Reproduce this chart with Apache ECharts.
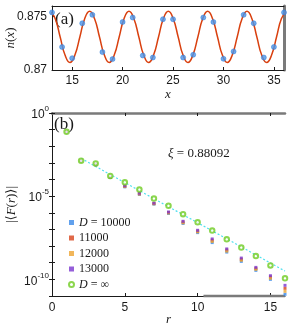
<!DOCTYPE html>
<html><head><meta charset="utf-8">
<script src="https://cdn.jsdelivr.net/npm/echarts@6/dist/echarts.min.js"></script>
<style>html,body{margin:0;padding:0;background:#fff}#c{width:299px;height:330px}</style>
</head><body><div id="c"></div>
<script>
// ---------- Panel (a): density n(x) ----------
const siteX = [13,14,15,16,17,18,19,20,21,22,23,24,25,26,27,28,29,30,31,32,33,34,35,36];
const densityN = [0.8754,0.87216,0.87111,0.87438,0.87517,0.87168,0.87102,0.8745,0.87492,0.87136,0.87117,0.87476,
                  0.87476,0.87117,0.87143,0.87492,0.8745,0.87105,0.87174,0.87517,0.87438,0.87117,0.87216,0.8754];
// fitted curve (peaks, troughs and intermediate points)
const fitX = [12.83,13.32,13.81,14.29,14.78,15.27,15.76,16.24,16.73,17.22,17.71,18.19,18.68,19.17,19.66,20.14,
              20.63,21.12,21.61,22.09,22.58,23.07,23.56,24.04,24.53,25.02,25.51,25.99,26.48,26.97,27.46,27.94,
              28.43,28.92,29.41,29.89,30.38,30.87,31.36,31.84,32.33,32.82,33.31,33.79,34.28,34.77,35.26,35.74,36.23];
const fitN = [0.8755,0.8748,0.8731,0.8714,0.8707,0.8714,0.8731,0.8748,0.8755,0.8748,0.8731,0.8714,0.8707,0.8714,0.8731,0.8748,
              0.8755,0.8748,0.8731,0.8714,0.8707,0.8714,0.8731,0.8748,0.8755,0.8748,0.8731,0.8714,0.8707,0.8714,0.8731,0.8748,
              0.8755,0.8748,0.8731,0.8714,0.8707,0.8714,0.8731,0.8748,0.8755,0.8748,0.8731,0.8714,0.8707,0.8714,0.8731,0.8748,0.8755];
const xTicksA = [15,20,25,30,35];
const yTicksA = [0.87,0.875];

// ---------- Panel (b): |<F(r)>| (log10 values) ----------
const distR = [1,2,3,4,5,6,7,8,9,10,11,12,13,14,15,16];
const log10_D10000 = [-1.13,-2.88,-3.12,-3.88,-4.44,-4.90,-5.48,-6.04,-6.64,-7.19,-7.79,-8.36,-8.92,-9.46,-10.00,-10.90];
const log10_D11000 = [-1.13,-2.87,-3.09,-3.86,-4.40,-4.85,-5.44,-5.98,-6.55,-7.10,-7.64,-8.23,-8.79,-9.34,-9.85,-10.54];
const log10_D12000 = [-1.13,-2.88,-3.11,-3.87,-4.42,-4.87,-5.46,-6.01,-6.60,-7.14,-7.72,-8.30,-8.85,-9.40,-9.93,-10.72];
const log10_D13000 = [-1.13,-2.87,-3.08,-3.85,-4.38,-4.82,-5.42,-5.95,-6.51,-7.05,-7.57,-8.17,-8.72,-9.28,-9.78,-10.36];
const log10_Dinf   = [-1.13,-2.87,-3.03,-3.78,-4.17,-4.60,-5.14,-5.58,-6.08,-6.57,-7.07,-7.59,-8.09,-8.60,-9.16,-9.94];
const fitLineR = [2,16];
const fitLineLog10 = [-2.73,-9.5];
const xTicksB = [0,5,10,15];
const yTickValsB = [1,1e-1,1e-2,1e-3,1e-4,1e-5,1e-6,1e-7,1e-8,1e-9,1e-10,1e-11];
const yLabelValsB = [1,1e-5,1e-10];
const shadeR = [10.4,16];

const legendNames = ['D = 10000','11000','12000','13000','D = ∞'];
const colors = ['#3a8ae8','#d8431c','#eea431','#7a36d0','#6fcc22'];

const pairs = (xs, ys) => xs.map((x,i)=>[x, ys[i]]);
const pairsLog = (xs, ls) => xs.map((x,i)=>[x, Math.pow(10, ls[i])]);

const sans = 'Liberation Sans, Arial, sans-serif';
const serif = 'Liberation Serif, DejaVu Serif, serif';
const ink = '#1a1a1a';
const axLine = {lineStyle:{color:ink,width:1}};
const tickIn = {inside:true,length:3,lineStyle:{color:ink,width:1}};

const supFmt = v => {
  const e = Math.round(Math.log10(v));
  return '{b|10}{s|' + (e===0?'0':e) + '}';
};
const supRich = {b:{fontSize:12,fontFamily:sans,color:ink,lineHeight:16,verticalAlign:'bottom'},
                 s:{fontSize:8,fontFamily:sans,color:ink,lineHeight:16,verticalAlign:'top'}};

const chart = echarts.init(document.getElementById('c'), null, {renderer:'canvas'});
chart.setOption({
  animation:false,
  backgroundColor:'#fff',
  grid:[
    {left:52,top:6,width:232,height:64,containLabel:false,outerBoundsMode:'none'},
    {left:52,top:113,width:233,height:183,containLabel:false,outerBoundsMode:'none'}
  ],
  xAxis:[
    {gridIndex:0,type:'value',min:13,max:36,position:'bottom',
     axisLine:axLine,axisTick:Object.assign({customValues:xTicksA},tickIn),
     axisLabel:{customValues:xTicksA,fontFamily:sans,fontSize:12,color:ink,margin:5},
     splitLine:{show:false},
     name:'x',nameLocation:'middle',nameGap:18,nameMoveOverlap:false,
     nameTextStyle:{fontFamily:serif,fontStyle:'italic',fontSize:13,color:ink}},
    {gridIndex:0,type:'value',min:13,max:36,position:'top',
     axisLine:axLine,axisTick:{show:false},axisLabel:{show:false},splitLine:{show:false}},
    {gridIndex:1,type:'value',min:0,max:16,position:'bottom',
     axisLine:axLine,axisTick:Object.assign({customValues:xTicksB},tickIn),
     axisLabel:{customValues:xTicksB,fontFamily:sans,fontSize:12,color:ink,margin:6},
     splitLine:{show:false},
     name:'r',nameLocation:'middle',nameGap:17,nameMoveOverlap:false,
     nameTextStyle:{fontFamily:serif,fontStyle:'italic',fontSize:13,color:ink}},
    {gridIndex:1,type:'value',min:0,max:16,position:'top',
     axisLine:{lineStyle:{color:'#7a7a7a',width:2.5}},
     axisTick:Object.assign({customValues:[5,10,15]},tickIn),
     axisLabel:{show:false},splitLine:{show:false}}
  ],
  yAxis:[
    {gridIndex:0,type:'value',min:0.87,max:0.876,position:'left',
     axisLine:axLine,axisTick:Object.assign({customValues:yTicksA},tickIn),
     axisLabel:{customValues:yTicksA,fontFamily:sans,fontSize:12,color:ink,margin:5,
                formatter:v=>String(+(+v).toFixed(3))},
     splitLine:{show:false},
     name:'{i|n}({i|x})',nameLocation:'middle',nameRotate:90,nameGap:35,nameMoveOverlap:false,
     nameTextStyle:{fontFamily:serif,fontSize:13,color:ink,
       rich:{i:{fontFamily:serif,fontStyle:'italic',fontSize:13,color:ink}}}},
    {gridIndex:0,type:'value',min:0.87,max:0.876,position:'right',
     axisLine:{lineStyle:{color:'#7a7a7a',width:3}},axisTick:{show:false},axisLabel:{show:false},splitLine:{show:false}},
    {gridIndex:1,type:'log',logBase:10,min:1e-11,max:1,position:'left',
     axisLine:axLine,axisTick:Object.assign({customValues:yTickValsB},tickIn),minorTick:{show:false},
     axisLabel:{customValues:yLabelValsB,formatter:supFmt,rich:supRich,margin:3,fontFamily:sans,fontSize:12,color:ink},
     splitLine:{show:false},
     name:'|⟨{i|F}({i|r})⟩|',nameLocation:'middle',nameRotate:90,nameGap:34,nameMoveOverlap:false,
     nameTextStyle:{fontFamily:serif,fontSize:13,color:ink,
       rich:{i:{fontFamily:serif,fontStyle:'italic',fontSize:13,color:ink}}}},
    {gridIndex:1,type:'log',logBase:10,min:1e-11,max:1,position:'right',
     axisLine:axLine,axisTick:Object.assign({customValues:yTickValsB},tickIn),axisLabel:{show:false},splitLine:{show:false}}
  ],
  legend:{
    orient:'vertical',left:63,top:211,itemWidth:5,itemHeight:5,itemGap:2.5,
    data:legendNames,
    formatter:n=>n.replace('D','{i|D}'),
    textStyle:{fontFamily:serif,fontSize:12,color:ink,lineHeight:13,
      rich:{i:{fontFamily:serif,fontStyle:'italic',fontSize:12,color:ink}}},
    selectedMode:false
  },
  graphic:[
    {type:'text',left:55,top:11,style:{text:'(a)',font:'17px '+serif,fill:ink}},
    {type:'text',left:54,top:116,style:{text:'(b)',font:'17px '+serif,fill:ink}},
    {type:'text',left:168,top:147,style:{
      text:'{i|ξ} = 0.88092',font:'13px '+serif,fill:ink,
      rich:{i:{fontFamily:serif,fontStyle:'italic',fontSize:13,fill:ink}}}}
  ],
  series:[
    {type:'line',xAxisIndex:0,yAxisIndex:0,data:pairs(fitX,fitN),smooth:0.5,symbol:'none',
     lineStyle:{color:'#d9400f',width:1.5},z:2},
    {type:'scatter',xAxisIndex:0,yAxisIndex:0,data:pairs(siteX,densityN),symbol:'circle',symbolSize:5,
     itemStyle:{color:'#4a95ea',borderColor:'#2a78d6',borderWidth:0.6},clip:false,z:3},

    {type:'line',xAxisIndex:3,yAxisIndex:2,data:pairs(shadeR,[1e-11,1e-11]),symbol:'none',
     lineStyle:{color:'#7a7a7a',width:2.5},clip:false,z:1,silent:true},
    {type:'line',xAxisIndex:2,yAxisIndex:2,data:pairsLog(fitLineR,fitLineLog10),symbol:'none',
     lineStyle:{color:'#4fe0ef',width:1.2,type:[2,2]},z:2},
    {name:legendNames[0],type:'scatter',xAxisIndex:2,yAxisIndex:2,data:pairsLog(distR,log10_D10000),
     symbol:'rect',symbolSize:3,itemStyle:{color:colors[0]},clip:false,z:3},
    {name:legendNames[1],type:'scatter',xAxisIndex:2,yAxisIndex:2,data:pairsLog(distR,log10_D11000),
     symbol:'rect',symbolSize:3,itemStyle:{color:colors[1]},clip:false,z:3},
    {name:legendNames[2],type:'scatter',xAxisIndex:2,yAxisIndex:2,data:pairsLog(distR,log10_D12000),
     symbol:'rect',symbolSize:3,itemStyle:{color:colors[2]},clip:false,z:3},
    {name:legendNames[3],type:'scatter',xAxisIndex:2,yAxisIndex:2,data:pairsLog(distR,log10_D13000),
     symbol:'rect',symbolSize:3,itemStyle:{color:colors[3]},clip:false,z:3},
    {name:legendNames[4],type:'scatter',xAxisIndex:2,yAxisIndex:2,data:pairsLog(distR,log10_Dinf),
     symbol:'emptyCircle',symbolSize:4.5,itemStyle:{color:colors[4],borderColor:colors[4],borderWidth:1},clip:false,z:4}
  ]
});
</script></body></html>
